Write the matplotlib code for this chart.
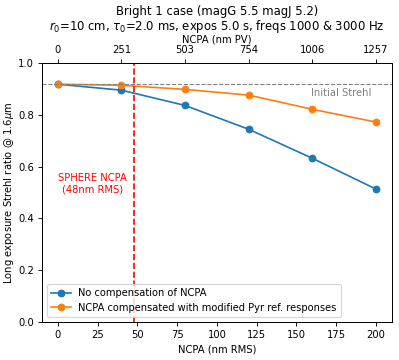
import matplotlib
matplotlib.use("Agg")
import matplotlib.pyplot as plt

ncpa_rms = [0, 40, 80, 120, 160, 200]
strehl_no_comp = [0.918, 0.895, 0.836, 0.744, 0.632, 0.513]
strehl_comp = [0.918, 0.914, 0.898, 0.876, 0.821, 0.772]
ncpa_pv_labels = ["0", "251", "503", "754", "1006", "1257"]
initial_strehl = 0.918
sphere_ncpa = 48

plt.rcParams["font.size"] = 9

fig, ax = plt.subplots(figsize=(4.9875, 4.5), dpi=80)
ax.plot(ncpa_rms, strehl_no_comp, marker="o", label="No compensation of NCPA")
ax.plot(ncpa_rms, strehl_comp, marker="o", label="NCPA compensated with modified Pyr ref. responses")
ax.axhline(initial_strehl, color="gray", linestyle="--", linewidth=1)
ax.text(197, initial_strehl - 0.015, "Initial Strehl", color="gray", ha="right", va="top")
ax.axvline(sphere_ncpa, color="red", linestyle="--")
ax.text(22, 0.535, "SPHERE NCPA\n(48nm RMS)", color="red", ha="center", va="center")
ax.set_ylim(0, 1.0)
ax.set_xlabel("NCPA (nm RMS)")
ax.set_ylabel("Long exposure Strehl ratio @ 1.6$\\mu$m", fontsize=9, labelpad=2)
ax.legend(loc="lower left", fontsize=8.9)

ax_top = ax.twiny()
ax_top.set_xlim(ax.get_xlim())
ax_top.set_xticks(ncpa_rms)
ax_top.set_xticklabels(ncpa_pv_labels)
ax_top.set_xlabel("NCPA (nm PV)", labelpad=2)
ax.set_title("Bright 1 case (magG 5.5 magJ 5.2)\n$r_0$=10 cm, $\\tau_0$=2.0 ms, expos 5.0 s, freqs 1000 & 3000 Hz",
             fontsize=10.5, linespacing=1.0, pad=3)

fig.subplots_adjust(left=0.105, right=0.982, top=0.825, bottom=0.106)
fig.savefig("out.png", dpi=80)
